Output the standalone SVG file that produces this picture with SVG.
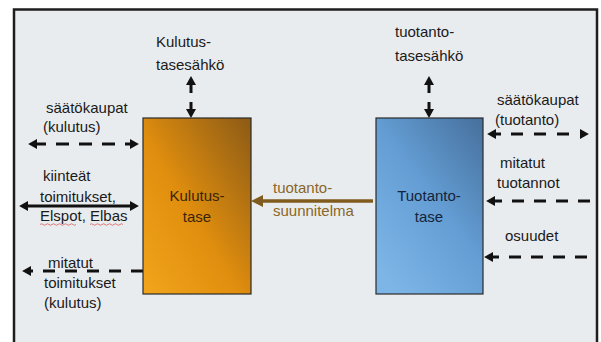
<svg xmlns="http://www.w3.org/2000/svg" width="601" height="342" viewBox="0 0 601 342">
  <defs>
    <linearGradient id="gOrange" x1="0" y1="1" x2="1" y2="0">
      <stop offset="0" stop-color="#f2a51c"/>
      <stop offset="0.45" stop-color="#e08e0e"/>
      <stop offset="1" stop-color="#8b5a16"/>
    </linearGradient>
    <linearGradient id="gBlue" x1="0.2" y1="1" x2="1" y2="0">
      <stop offset="0" stop-color="#7db5e7"/>
      <stop offset="0.5" stop-color="#639dd3"/>
      <stop offset="1" stop-color="#466f9c"/>
    </linearGradient>
    <marker id="ah" markerUnits="userSpaceOnUse" markerWidth="10" markerHeight="10" viewBox="0 0 8 9" refX="0" refY="4.5" orient="auto-start-reverse">
      <path d="M0,0 L8,4.5 L0,9 z" fill="#111"/>
    </marker>
    <marker id="ahBrown" markerUnits="userSpaceOnUse" markerWidth="12" markerHeight="12" viewBox="0 0 10 10" refX="0" refY="5" orient="auto-start-reverse">
      <path d="M0,0 L10,5 L0,10 z" fill="#7f5b1e"/>
    </marker>
    <style>
      .t { font-family: "Liberation Sans", Arial, sans-serif; font-size: 15px; fill: #1a1a1a; }
      .box { stroke: #2a2a2a; stroke-width: 1.2; }
      .ln { stroke: #111; stroke-width: 3; fill: none; }
      .dash { stroke-dasharray: 12 10; }
      .sq { stroke: #d9534f; stroke-width: 1; fill: none; opacity: 0.75; }
    </style>
  </defs>

  <rect x="0" y="0" width="601" height="342" fill="#ffffff"/>
  <rect id="frame" x="14" y="9.5" width="583" height="340" fill="#e9ecef" stroke="#1e1e1e" stroke-width="2.5"/>

  <g id="connectors">
    <!-- Kulutus-tasesähkö up/down -->
    <line class="ln" x1="191" y1="85" x2="191" y2="109" stroke-dasharray="8 9 8" marker-start="url(#ah)" marker-end="url(#ah)"/>
    <!-- tuotanto-tasesähkö up/down -->
    <line class="ln" x1="429" y1="85" x2="429" y2="109" stroke-dasharray="8 9 8" marker-start="url(#ah)" marker-end="url(#ah)"/>
    <!-- säätökaupat (kulutus) -->
    <line class="ln" x1="37" y1="144" x2="130" y2="144" stroke-dasharray="9 10 13 10 13 10 13 10 9" marker-start="url(#ah)" marker-end="url(#ah)"/>
    <!-- kiinteät toimitukset -->
    <line class="ln" x1="28" y1="206" x2="130" y2="206" marker-start="url(#ah)" marker-end="url(#ah)"/>
    <!-- mitatut toimitukset (kulutus) -->
    <line class="ln dash" x1="143" y1="271" x2="31" y2="271" stroke-dasharray="5 11 12 11 12 11 12 11 12 11 30" marker-end="url(#ah)"/>
    <!-- tuotantosuunnitelma -->
    <line x1="373" y1="201" x2="263" y2="201" stroke="#7f5b1e" stroke-width="3.5" marker-end="url(#ahBrown)"/>
    <!-- säätökaupat (tuotanto) -->
    <line class="ln" x1="496" y1="134" x2="580" y2="134" stroke-dasharray="5 10 12 11 12 11 12 11 10" marker-start="url(#ah)" marker-end="url(#ah)"/>
    <!-- mitatut tuotannot -->
    <line class="ln dash" x1="590" y1="201" x2="495" y2="201" marker-end="url(#ah)"/>
    <!-- osuudet -->
    <line class="ln dash" x1="587" y1="257" x2="493" y2="257" marker-end="url(#ah)"/>
  </g>

  <g id="kulutustase">
    <rect class="box" x="143" y="118" width="108" height="176" fill="url(#gOrange)"/>
    <text class="t" x="197" y="201" text-anchor="middle" style="fill:#3a2508">Kulutus-</text>
    <text class="t" x="197" y="222" text-anchor="middle" style="fill:#3a2508">tase</text>
  </g>

  <g id="tuotantotase">
    <rect class="box" x="376" y="118" width="107" height="176" fill="url(#gBlue)"/>
    <text class="t" x="429" y="201" text-anchor="middle" style="fill:#15243a">Tuotanto-</text>
    <text class="t" x="429" y="222" text-anchor="middle" style="fill:#15243a">tase</text>
  </g>

  <g id="kulutustasesahko">
    <text class="t" x="156" y="47">Kulutus-</text>
    <text class="t" x="156" y="70">tasesähkö</text>
  </g>

  <g id="tuotantotasesahko">
    <text class="t" x="395" y="37">tuotanto-</text>
    <text class="t" x="395" y="61">tasesähkö</text>
  </g>

  <g id="saatokaupat-kulutus">
    <text class="t" x="46" y="113">säätökaupat</text>
    <text class="t" x="43" y="132">(kulutus)</text>
  </g>

  <g id="kiinteat-toimitukset">
    <text class="t" x="43" y="181">kiinteät</text>
    <text class="t" x="40" y="202">toimitukset,</text>
    <text class="t" x="40" y="221">Elspot, Elbas</text>
    <path class="sq" d="M40,224.5 q1.5,-1.5 3,0 t3,0 t3,0 t3,0 t3,0 t3,0 t3,0 t3,0 t3,0 t3,0 t3,0 t3,0"/>
    <path class="sq" d="M90,224.5 q1.5,-1.5 3,0 t3,0 t3,0 t3,0 t3,0 t3,0 t3,0 t3,0 t3,0 t3,0 t3,0"/>
  </g>

  <g id="mitatut-toimitukset">
    <text class="t" x="48" y="268">mitatut</text>
    <text class="t" x="44" y="288">toimitukset</text>
    <text class="t" x="44" y="308">(kulutus)</text>
  </g>

  <g id="tuotantosuunnitelma">
    <text class="t" x="273" y="193" style="fill:#8a6626">tuotanto-</text>
    <text class="t" x="273" y="216" style="fill:#8a6626">suunnitelma</text>
  </g>

  <g id="saatokaupat-tuotanto">
    <text class="t" x="497" y="105">säätökaupat</text>
    <text class="t" x="495" y="125">(tuotanto)</text>
  </g>

  <g id="mitatut-tuotannot">
    <text class="t" x="500" y="168">mitatut</text>
    <text class="t" x="497" y="188">tuotannot</text>
  </g>

  <g id="osuudet">
    <text class="t" x="505" y="241">osuudet</text>
  </g>
</svg>
